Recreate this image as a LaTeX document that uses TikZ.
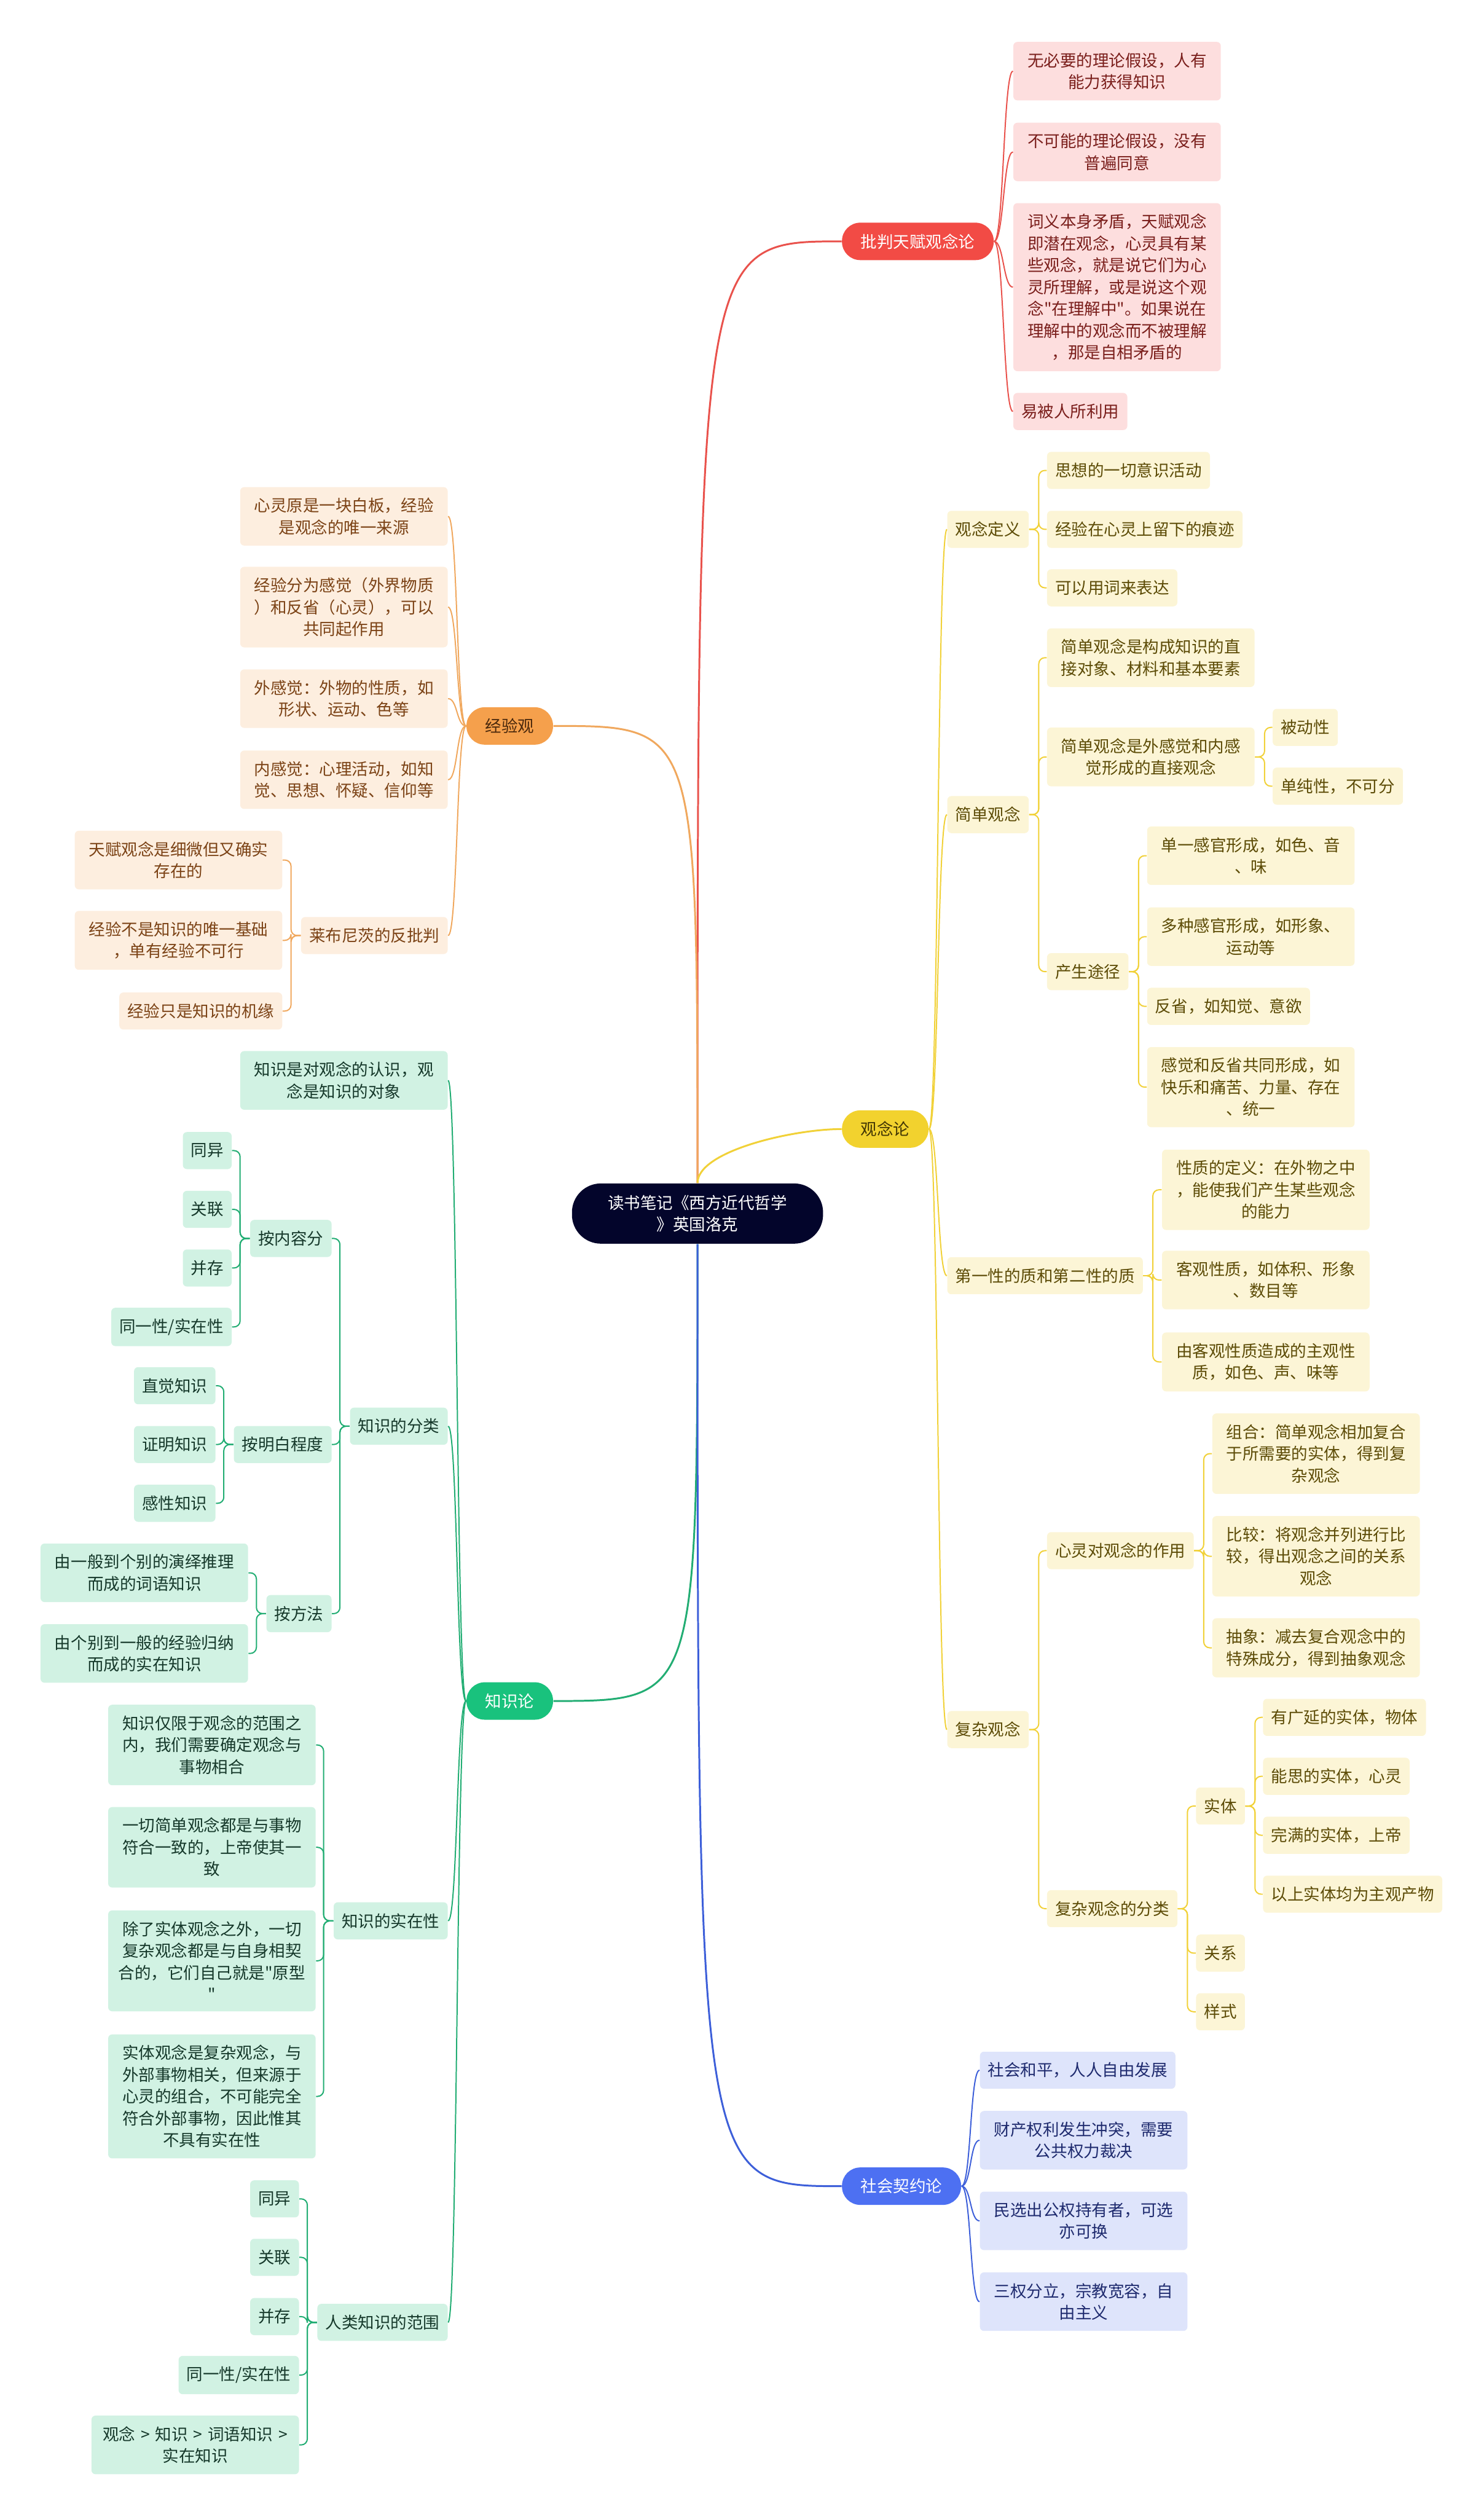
\documentclass[tikz,border=0pt]{standalone}
\usepackage{fontspec}
\setmainfont{Noto Sans CJK SC}[Ligatures=TeXOff]

\definecolor{rootc}{HTML}{03052B}
\definecolor{redpill}{HTML}{F24B45}
\definecolor{redline}{HTML}{E9524C}
\definecolor{redfill}{HTML}{FDDEDE}
\definecolor{redtext}{HTML}{7A1E1B}
\definecolor{orapill}{HTML}{F5A04C}
\definecolor{oraline}{HTML}{F0A85E}
\definecolor{orafill}{HTML}{FDEEDF}
\definecolor{oratext}{HTML}{7B4215}
\definecolor{yelpill}{HTML}{F2D22E}
\definecolor{yelline}{HTML}{F1D138}
\definecolor{yelfill}{HTML}{FCF5D6}
\definecolor{yeltext}{HTML}{5C4B06}
\definecolor{grnpill}{HTML}{19C27D}
\definecolor{grnline}{HTML}{22AD73}
\definecolor{grnfill}{HTML}{D1F2E3}
\definecolor{grntext}{HTML}{15382A}
\definecolor{blupill}{HTML}{4D70F2}
\definecolor{bluline}{HTML}{3D5FD9}
\definecolor{blufill}{HTML}{DEE4FB}
\definecolor{blutext}{HTML}{1E2A6E}

\begin{document}
\begin{tikzpicture}[x=0.02771cm, y=-0.02771cm,
    font=\fontsize{8pt}{10.7pt}\selectfont,
    box/.style={rounded corners=2pt, inner xsep=0.14cm, inner ysep=5.3pt,
        minimum height=0.64cm, align=center},
    wide/.style={text width=3.3cm},
    pill/.style={rounded corners=9pt, inner xsep=0.325cm, inner ysep=5pt,
        minimum height=0.646cm},
    rleaf/.style={box, fill=redfill, text=redtext, anchor=west},
    oleaf/.style={box, fill=orafill, text=oratext, anchor=east},
    yleaf/.style={box, fill=yelfill, text=yeltext, anchor=west},
    gleaf/.style={box, fill=grnfill, text=grntext, anchor=east},
    bleaf/.style={box, fill=blufill, text=blutext, anchor=west},
    trunk/.style={line width=0.9pt},
    twig/.style={line width=0.6pt},
    elbow/.style={twig, rounded corners=3pt}
]
\useasboundingbox (0,0) rectangle (924,1567.2);

% Root and main branches
\node[fill=rootc, text=white, rounded corners=0.5cm, inner xsep=0.62cm,
    inner ysep=0.2cm, align=center] (root) at (434.3,755.6)
    {读书笔记《西方近代哲学\\》英国洛克};
\node[pill, fill=redpill, text=white, anchor=west] (crit) at (524,150.3) {批判天赋观念论};
\node[pill, fill=orapill, text=oratext!60!black, anchor=east] (exp) at (344.6,452) {经验观};
\node[pill, fill=yelpill, text=yeltext!70!black, anchor=west] (idea) at (524,703) {观念论};
\node[pill, fill=grnpill, text=white, anchor=east] (know) at (344.6,1059.1) {知识论};
\node[pill, fill=blupill, text=white, anchor=west] (soc) at (524,1361.2) {社会契约论};

% Critique
\node[rleaf, wide] (r1) at (630.7,44.3) {无必要的理论假设，人有\\能力获得知识};
\node[rleaf, wide] (r2) at (630.7,94.6) {不可能的理论假设，没有\\普遍同意};
\node[rleaf, wide] (r3) at (630.7,178.8) {词义本身矛盾，天赋观念\\即潜在观念，心灵具有某\\些观念，就是说它们为心\\灵所理解，或是说这个观\\念"在理解中"。如果说在\\理解中的观念而不被理解\\，那是自相矛盾的};
\node[rleaf] (r4) at (630.7,256.2) {易被人所利用};

% Experience
\node[oleaf, wide] (o1) at (279,321.5) {心灵原是一块白板，经验\\是观念的唯一来源};
\node[oleaf, wide] (o2) at (279,378) {经验分为感觉（外界物质\\）和反省（心灵），可以\\共同起作用};
\node[oleaf, wide] (o3) at (279,435) {外感觉：外物的性质，如\\形状、运动、色等};
\node[oleaf, wide] (o4) at (279,485.5) {内感觉：心理活动，如知\\觉、思想、怀疑、信仰等};
\node[oleaf] (o5) at (279,582.5) {莱布尼茨的反批判};
\node[oleaf, wide] (o5a) at (176,535.5) {天赋观念是细微但又确实\\存在的};
\node[oleaf, wide] (o5b) at (176,585.5) {经验不是知识的唯一基础\\，单有经验不可行};
\node[oleaf] (o5c) at (176,629.5) {经验只是知识的机缘};

% Ideas
\node[yleaf] (y1) at (589.6,329.6) {观念定义};
\node[yleaf] (y2) at (589.6,507.2) {简单观念};
\node[yleaf] (y3) at (589.6,794.3) {第一性的质和第二性的质};
\node[yleaf] (y4) at (589.6,1076.9) {复杂观念};
\node[yleaf] (y11) at (651.7,292.9) {思想的一切意识活动};
\node[yleaf] (y12) at (651.7,329.6) {经验在心灵上留下的痕迹};
\node[yleaf] (y13) at (651.7,366) {可以用词来表达};
\node[yleaf, wide] (y21) at (651.7,409.5) {简单观念是构成知识的直\\接对象、材料和基本要素};
\node[yleaf, wide] (y22) at (651.7,471.3) {简单观念是外感觉和内感\\觉形成的直接观念};
\node[yleaf] (y23) at (651.7,605) {产生途径};
\node[yleaf] (y221) at (792.2,452.9) {被动性};
\node[yleaf] (y222) at (792.2,489.5) {单纯性，不可分};
\node[yleaf, wide] (y231) at (714,532.8) {单一感官形成，如色、音\\、味};
\node[yleaf, wide] (y232) at (714,583.2) {多种感官形成，如形象、\\运动等};
\node[yleaf] (y233) at (714,626.6) {反省，如知觉、意欲};
\node[yleaf, wide] (y234) at (714,676.9) {感觉和反省共同形成，如\\快乐和痛苦、力量、存在\\、统一};
\node[yleaf, wide] (y31) at (723.3,740.8) {性质的定义：在外物之中\\，能使我们产生某些观念\\的能力};
\node[yleaf, wide] (y32) at (723.3,797) {客观性质，如体积、形象\\、数目等};
\node[yleaf, wide] (y33) at (723.3,848) {由客观性质造成的主观性\\质，如色、声、味等};
\node[yleaf] (y41) at (651.7,965.5) {心灵对观念的作用};
\node[yleaf] (y42) at (651.7,1188.4) {复杂观念的分类};
\node[yleaf, wide] (y411) at (754.6,905.1) {组合：简单观念相加复合\\于所需要的实体，得到复\\杂观念};
\node[yleaf, wide] (y412) at (754.6,969) {比较：将观念并列进行比\\较，得出观念之间的关系\\观念};
\node[yleaf, wide] (y413) at (754.6,1026) {抽象：减去复合观念中的\\特殊成分，得到抽象观念};
\node[yleaf] (y421) at (744.5,1124.5) {实体};
\node[yleaf] (y422) at (744.5,1216.1) {关系};
\node[yleaf] (y423) at (744.5,1252.6) {样式};
\node[yleaf] (y4211) at (786.2,1069.3) {有广延的实体，物体};
\node[yleaf] (y4212) at (786.2,1106) {能思的实体，心灵};
\node[yleaf] (y4213) at (786.2,1142.7) {完满的实体，上帝};
\node[yleaf] (y4214) at (786.2,1179.4) {以上实体均为主观产物};

% Social contract
\node[bleaf] (b1) at (609.9,1289) {社会和平，人人自由发展};
\node[bleaf, wide] (b2) at (609.9,1332.6) {财产权利发生冲突，需要\\公共权力裁决};
\node[bleaf, wide] (b3) at (609.9,1382.8) {民选出公权持有者，可选\\亦可换};
\node[bleaf, wide] (b4) at (609.9,1433.1) {三权分立，宗教宽容，自\\由主义};

% Knowledge
\node[gleaf, wide] (g1) at (279,672.7) {知识是对观念的认识，观\\念是知识的对象};
\node[gleaf] (g2) at (279,888) {知识的分类};
\node[gleaf] (g3) at (279,1196) {知识的实在性};
\node[gleaf] (g4) at (279,1446) {人类知识的范围};
\node[gleaf] (g21) at (206.7,771.1) {按内容分};
\node[gleaf] (g22) at (206.7,899.4) {按明白程度};
\node[gleaf] (g23) at (206.7,1004.7) {按方法};
\node[gleaf] (g211) at (144.5,716.4) {同异};
\node[gleaf] (g212) at (144.5,753) {关联};
\node[gleaf] (g213) at (144.5,789.5) {并存};
\node[gleaf] (g214) at (144.5,826.2) {同一性/实在性};
\node[gleaf] (g221) at (134.4,862.8) {直觉知识};
\node[gleaf] (g222) at (134.4,899.4) {证明知识};
\node[gleaf] (g223) at (134.4,936) {感性知识};
\node[gleaf, wide] (g231) at (154.7,979.3) {由一般到个别的演绎推理\\而成的词语知识};
\node[gleaf, wide] (g232) at (154.7,1029.5) {由个别到一般的经验归纳\\而成的实在知识};
\node[gleaf, wide] (g31) at (196.8,1086.5) {知识仅限于观念的范围之\\内，我们需要确定观念与\\事物相合};
\node[gleaf, wide] (g32) at (196.8,1150.2) {一切简单观念都是与事物\\符合一致的，上帝使其一\\致};
\node[gleaf, wide] (g33) at (196.8,1220.9) {除了实体观念之外，一切\\复杂观念都是与自身相契\\合的，它们自己就是"原型\\"};
\node[gleaf, wide] (g34) at (196.8,1305.3) {实体观念是复杂观念，与\\外部事物相关，但来源于\\心灵的组合，不可能完全\\符合外部事物，因此惟其\\不具有实在性};
\node[gleaf] (g41) at (186.4,1369.1) {同异};
\node[gleaf] (g42) at (186.4,1405.5) {关联};
\node[gleaf] (g43) at (186.4,1442.4) {并存};
\node[gleaf] (g44) at (186.4,1478.8) {同一性/实在性};
\node[gleaf, wide] (g45) at (186.4,1522.3) {观念 > 知识 > 词语知识 >\\实在知识};

% Root to branches
\draw[trunk, redline] (root.north) .. controls (root.north |- crit.west) .. (crit.west);
\draw[trunk, oraline] (root.north) .. controls (root.north |- exp.east) .. (exp.east);
\draw[trunk, yelline] (root.north) .. controls +(0,-20) and +(-30,0) .. (idea.west);
\draw[trunk, grnline] (root.south) .. controls (root.south |- know.east) .. (know.east);
\draw[trunk, bluline] (root.south) .. controls (root.south |- soc.west) .. (soc.west);

% Branches to first children
\foreach \c in {r1,r2,r3,r4}
    \draw[twig, redline] (crit.east) .. controls +(6,0) and +(-6,0) .. (\c.west);
\foreach \c in {o1,o2,o3,o4,o5}
    \draw[twig, oraline] (exp.west) .. controls +(-6,0) and +(6,0) .. (\c.east);
\foreach \c in {y1,y2,y3,y4}
    \draw[twig, yelline] (idea.east) .. controls +(6,0) and +(-6,0) .. (\c.west);
\foreach \c in {g1,g2,g3,g4}
    \draw[twig, grnline] (know.west) .. controls +(-6,0) and +(6,0) .. (\c.east);
\foreach \c in {b1,b2,b3,b4}
    \draw[twig, bluline] (soc.east) .. controls +(6,0) and +(-6,0) .. (\c.west);

% Deeper levels
\foreach \c in {o5a,o5b,o5c}
    \draw[elbow, oraline] (o5.west) -- ++(-6,0) |- (\c.east);
\foreach \p/\c in {y1/y11,y1/y12,y1/y13,y2/y21,y2/y22,y2/y23,y22/y221,y22/y222,
    y23/y231,y23/y232,y23/y233,y23/y234,y3/y31,y3/y32,y3/y33,y4/y41,y4/y42,
    y41/y411,y41/y412,y41/y413,y42/y421,y42/y422,y42/y423,
    y421/y4211,y421/y4212,y421/y4213,y421/y4214}
    \draw[elbow, yelline] (\p.east) -- ++(6,0) |- (\c.west);
\foreach \p/\c in {g2/g21,g2/g22,g2/g23,g21/g211,g21/g212,g21/g213,g21/g214,
    g22/g221,g22/g222,g22/g223,g23/g231,g23/g232,g3/g31,g3/g32,g3/g33,g3/g34,
    g4/g41,g4/g42,g4/g43,g4/g44,g4/g45}
    \draw[elbow, grnline] (\p.west) -- ++(-6,0) |- (\c.east);
\end{tikzpicture}
\end{document}
